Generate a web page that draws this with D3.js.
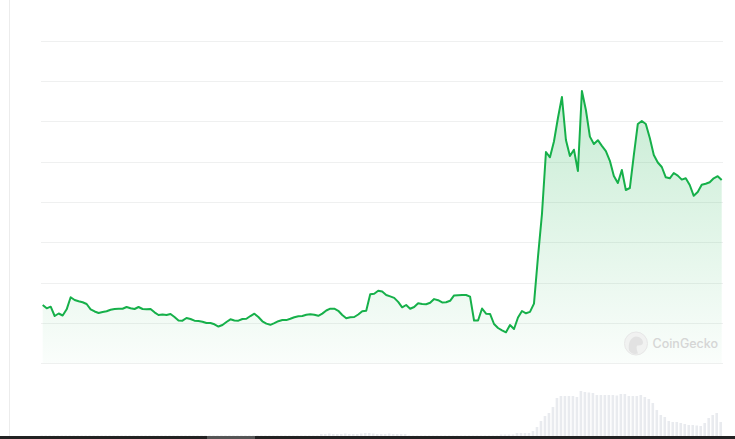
<!DOCTYPE html>
<html>
<head>
<meta charset="utf-8">
<script src="https://cdnjs.cloudflare.com/ajax/libs/d3/7.8.5/d3.min.js"></script>
<style>
  body { margin: 0; background: #fff; }
  #chart { width: 735px; height: 439px; }
</style>
</head>
<body>
<div id="chart"></div>
<script>
// price per step
var price = [
  1.445, 1.363, 1.403, 1.172, 1.234, 1.185, 1.338, 1.636, 1.569, 1.537,
  1.512, 1.470, 1.338, 1.284, 1.247, 1.271, 1.289, 1.328, 1.346, 1.353,
  1.353, 1.395, 1.363, 1.346, 1.395, 1.346, 1.338, 1.346, 1.264, 1.197,
  1.209, 1.197, 1.222, 1.147, 1.061, 1.056, 1.123, 1.098, 1.056, 1.048,
  1.031, 0.999, 0.999, 0.967, 0.912, 0.949, 1.024, 1.090, 1.061, 1.056,
  1.098, 1.105, 1.172, 1.229, 1.147, 1.041, 0.984, 0.954, 0.994, 1.043,
  1.073, 1.071, 1.105, 1.142, 1.165, 1.172, 1.202, 1.214, 1.202, 1.177,
  1.232, 1.309, 1.353, 1.353, 1.301, 1.197, 1.118, 1.140, 1.147, 1.209,
  1.291, 1.304, 1.710, 1.725, 1.799, 1.777, 1.693, 1.658, 1.621, 1.522,
  1.388, 1.445, 1.351, 1.395, 1.487, 1.470, 1.465, 1.499, 1.591, 1.564,
  1.509, 1.514, 1.549, 1.683, 1.688, 1.690, 1.693, 1.653, 1.061, 1.061,
  1.358, 1.229, 1.222, 0.974, 0.875, 0.818, 0.768, 0.949, 0.850, 1.135,
  1.296, 1.239, 1.274, 1.480, 2.634, 3.700, 5.237, 5.105, 5.497, 6.079,
  6.600, 5.534, 5.138, 5.294, 4.766, 6.748, 6.278, 5.618, 5.435, 5.529,
  5.390, 5.261, 5.019, 4.642, 4.468, 4.791, 4.295, 4.344, 5.162, 5.931,
  6.005, 5.931, 5.584, 5.162, 4.976, 4.865, 4.610, 4.585, 4.716, 4.652,
  4.553, 4.585, 4.419, 4.151, 4.245, 4.424, 4.449, 4.488, 4.585, 4.637,
  4.543
];

// volume per step (same steps as price)
var volume = [
  0.5, 0.5, 0.5, 0.5, 0.5, 0.5, 0.5, 0.5, 0.5, 0.5,
  0.5, 0.5, 0.5, 0.5, 0.5, 0.5, 0.5, 0.5, 0.5, 0.5,
  0.5, 0.5, 0.5, 0.5, 0.5, 0.5, 0.5, 0.5, 0.5, 0.5,
  0.5, 0.5, 0.5, 0.5, 0.5, 0.5, 0.5, 0.5, 0.5, 0.5,
  0.5, 0.5, 0.5, 0.5, 0.5, 0.5, 0.5, 0.5, 0.5, 0.5,
  0.5, 0.5, 0.5, 0.5, 0.5, 0.5, 0.5, 0.5, 0.5, 0.5,
  0.5, 0.5, 0.5, 0.5, 0.5, 0.5, 0.5, 0.5, 0.5, 0.5,
  2, 2, 2.5, 2, 2, 2, 2.5, 2, 2, 2,
  2.5, 3, 3, 2.5, 2, 2, 2, 2.5, 2, 2,
  2, 2, 0.5, 0.5, 0.5, 0.5, 0.5, 0.5, 0.5, 0.5,
  0.5, 0.5, 0.5, 0.5, 0.5, 0.5, 0.5, 0.5, 0.5, 0.5,
  0.5, 0.5, 0.5, 0.5, 0.5, 1.5, 1.5, 1.5, 1.5, 3,
  3, 3, 3, 5, 9, 15, 20, 23, 29, 38,
  40, 40, 40, 40, 39, 45, 44, 43.5, 43, 41,
  41, 41, 41, 41, 40.5, 42, 42, 40, 40, 40,
  41, 39, 37, 33, 26, 21, 19, 15, 14, 14,
  13, 12, 11, 11, 10.5, 10, 13, 18, 21, 23,
  14
];

var priceTicks = [0, 1, 2, 3, 4, 5, 6, 7, 8];
var brand = "CoinGecko";

var width = 735,
    height = 439;

var svg = d3.select("#chart").append("svg")
    .attr("width", width)
    .attr("height", height);

var x = d3.scaleLinear()
    .domain([0, price.length - 1])
    .range([42.7, 721.7]);

var y = d3.scaleLinear()
    .domain([0, 8])
    .range([363.3, 40.5]);

var yVol = d3.scaleLinear()
    .domain([0, 50])
    .range([436, 386]);

// gradient under the line
var defs = svg.append("defs");
var grad = defs.append("linearGradient")
    .attr("id", "area-grad")
    .attr("gradientUnits", "userSpaceOnUse")
    .attr("x1", 0).attr("y1", y(6.7))
    .attr("x2", 0).attr("y2", y(0));
grad.append("stop").attr("offset", "0%").attr("stop-color", "#16b04a").attr("stop-opacity", 0.24);
grad.append("stop").attr("offset", "100%").attr("stop-color", "#16b04a").attr("stop-opacity", 0.02);

// left border line
svg.append("line")
    .attr("x1", 9.5).attr("x2", 9.5)
    .attr("y1", 0).attr("y2", 436)
    .style("stroke", "#ececec");

// grid
svg.append("g")
    .attr("class", "grid")
    .selectAll("line")
    .data(priceTicks).enter()
    .append("line")
    .attr("x1", 41).attr("x2", 723)
    .attr("y1", function(d) { return Math.round(y(d)) + 0.5; })
    .attr("y2", function(d) { return Math.round(y(d)) + 0.5; })
    .style("stroke", "#eff0f0");

// volume bars
svg.append("g")
    .attr("class", "volume")
    .selectAll("rect")
    .data(volume).enter()
    .append("rect")
    .attr("x", function(d, i) { return x(i) - 2.3; })
    .attr("width", 2.6)
    .attr("y", function(d) { return yVol(d); })
    .attr("height", function(d) { return yVol(0) - yVol(d); })
    .style("fill", "#e9ebef");

// area + line
var area = d3.area()
    .x(function(d, i) { return x(i); })
    .y0(y(0))
    .y1(function(d) { return y(d); });

var line = d3.line()
    .curve(d3.curveLinear)
    .x(function(d, i) { return x(i); })
    .y(function(d) { return y(d); });

svg.append("path")
    .datum(price)
    .attr("d", area)
    .style("fill", "url(#area-grad)");

svg.append("path")
    .datum(price)
    .attr("d", line)
    .style("fill", "none")
    .style("stroke", "#16b04a")
    .style("stroke-width", 2)
    .style("stroke-linejoin", "round");

// watermark
var mark = svg.append("g")
    .attr("transform", "translate(636,343.5)")
    .style("opacity", 0.9);
mark.append("circle")
    .attr("r", 11.5)
    .style("fill", "#f1f1f1")
    .style("stroke", "#e6e6e6");
mark.append("path")
    .attr("d", "M-7,7 C-8,0 -6,-6 0,-7 C4,-7 7,-4 7,-1 C7,2 3,2 1,2 C0,4 1,7 2,10 C-2,11 -5,10 -7,7 Z")
    .style("fill", "#e0e0e0");
mark.append("text")
    .attr("x", 16.5)
    .attr("y", 4.5)
    .style("font-family", "Inter, 'Open Sans', sans-serif")
    .style("font-size", "12.5px")
    .style("font-weight", 500)
    .style("fill", "#d2d2d2")
    .text(brand);

// scroll strip at the bottom
svg.append("rect")
    .attr("x", 0).attr("y", 436)
    .attr("width", width).attr("height", 3)
    .style("fill", "#222");
svg.append("rect")
    .attr("x", 207).attr("y", 436)
    .attr("width", 48).attr("height", 3)
    .style("fill", "#555");
</script>
</body>
</html>
